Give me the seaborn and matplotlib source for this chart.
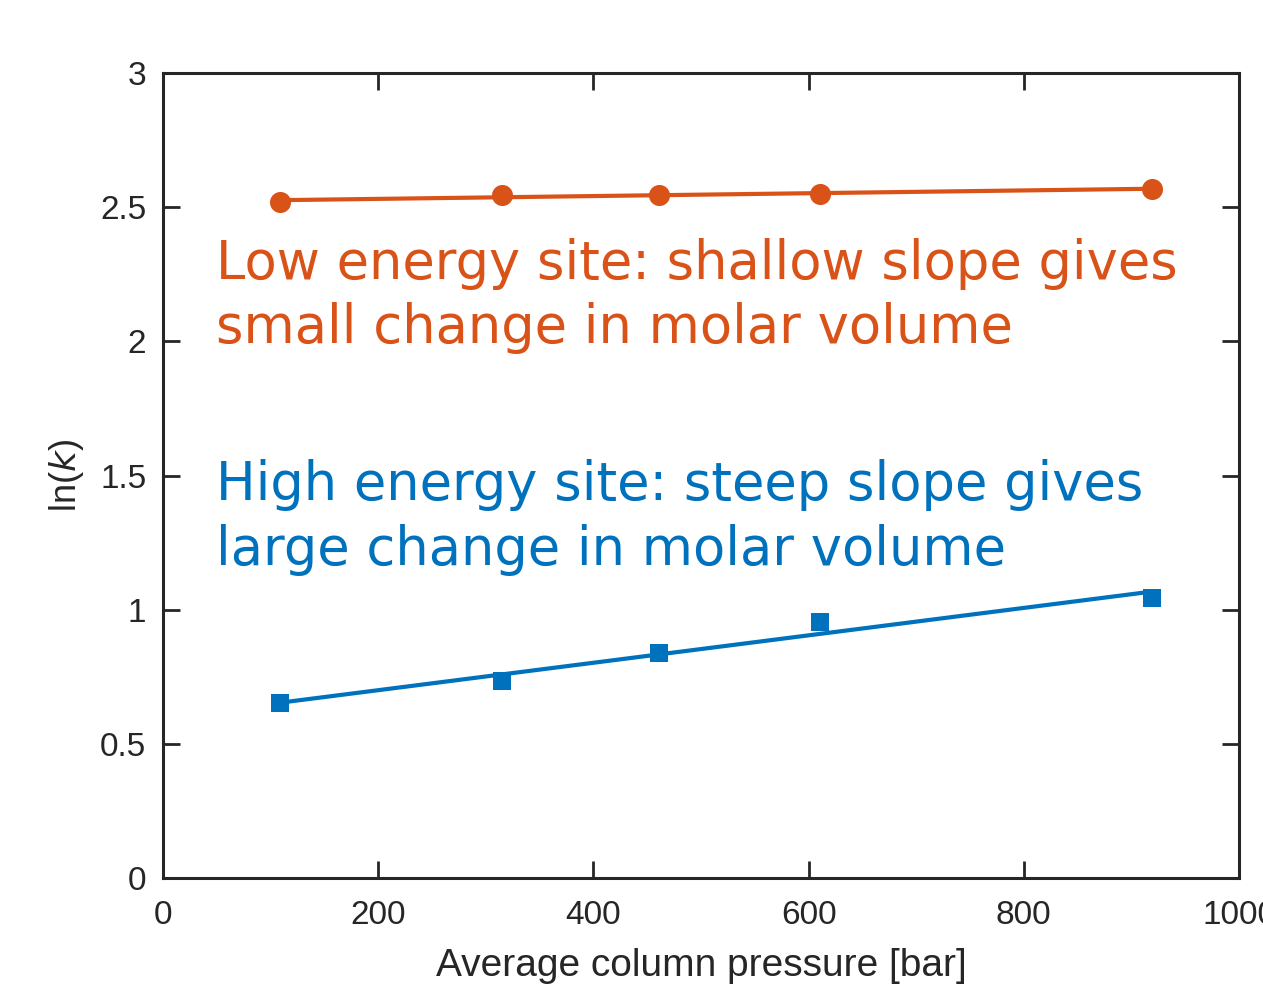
import numpy as np
import pandas as pd
import matplotlib
matplotlib.use("Agg")
import matplotlib.pyplot as plt
import seaborn as sns

# Data
pressure = [109, 315, 461, 611, 919]
ln_k_low = [2.520, 2.546, 2.546, 2.549, 2.568]
ln_k_high = [0.652, 0.734, 0.839, 0.954, 1.044]

x_ticks = [0, 200, 400, 600, 800, 1000]
y_ticks = [0, 0.5, 1, 1.5, 2, 2.5, 3]
y_ticklabels = ["0", "0.5", "1", "1.5", "2", "2.5", "3"]

label_low = "Low energy site: shallow slope gives\nsmall change in molar volume"
label_high = "High energy site: steep slope gives\nlarge change in molar volume"

c_low = "#D95319"
c_high = "#0072BD"
c_axis = "#262626"

sns.set_theme(style="ticks")
plt.rcParams["font.family"] = ["Liberation Sans Narrow", "Liberation Sans", "DejaVu Sans"]

df_low = pd.DataFrame({"p": pressure, "lnk": ln_k_low})
df_high = pd.DataFrame({"p": pressure, "lnk": ln_k_high})

fig = plt.figure(figsize=(12.63, 9.84), dpi=100)
ax = fig.add_axes([0.129, 0.1077, 0.852, 0.8181])

sns.regplot(data=df_low, x="p", y="lnk", ci=None, truncate=True, ax=ax,
            scatter=False, line_kws=dict(color=c_low, lw=3))
sns.regplot(data=df_high, x="p", y="lnk", ci=None, truncate=True, ax=ax,
            scatter=False, line_kws=dict(color=c_high, lw=3))
sns.scatterplot(data=df_low, x="p", y="lnk", ax=ax, color=c_low, marker="o",
                s=230, edgecolor=c_low, linewidth=0, zorder=5)
sns.scatterplot(data=df_high, x="p", y="lnk", ax=ax, color=c_high, marker="s",
                s=170, edgecolor=c_high, linewidth=0, zorder=5)

ax.set_xlim(0, 1000)
ax.set_ylim(0, 3)
ax.set_xticks(x_ticks)
ax.set_xticklabels([str(v) for v in x_ticks])
ax.set_yticks(y_ticks)
ax.set_yticklabels(y_ticklabels)

for sp in ax.spines.values():
    sp.set_visible(True)
    sp.set_color(c_axis)
    sp.set_linewidth(2.2)
ax.tick_params(axis="both", direction="in", length=12, width=2, color=c_axis,
               labelsize=24, labelcolor=c_axis, top=True, right=True)
ax.tick_params(axis="x", pad=16)
ax.tick_params(axis="y", pad=12)

ax.set_xlabel("Average column pressure [bar]", fontsize=28, color=c_axis, labelpad=12)
ax.set_ylabel(r"ln($\mathit{k}$)", fontsize=26, color=c_axis, labelpad=10)

ax.text(49, 2.385, label_low, color=c_low, fontsize=38, family="DejaVu Sans",
        va="top", ha="left", linespacing=1.3)
ax.text(49, 1.56, label_high, color=c_high, fontsize=38, family="DejaVu Sans",
        va="top", ha="left", linespacing=1.3)

fig.savefig("out.png", dpi=100)
